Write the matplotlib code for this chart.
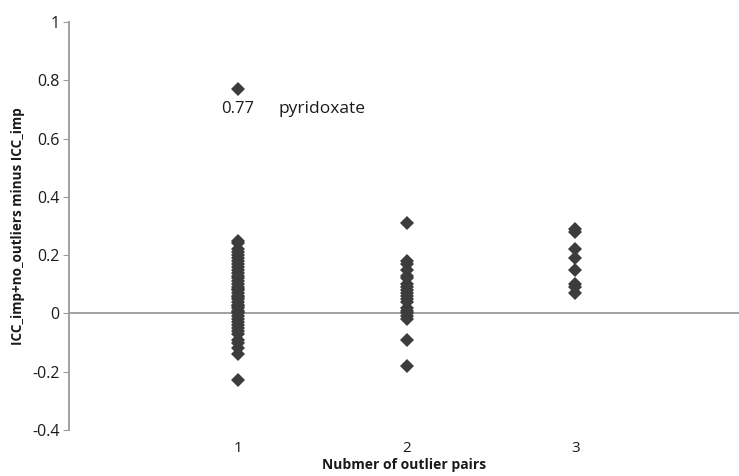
import matplotlib
matplotlib.use("Agg")
import matplotlib.pyplot as plt

# values (ICC difference per outlier-pair count)
pairs_1 = [0.77, 0.25, 0.24, 0.22, 0.21, 0.20, 0.19, 0.18, 0.17, 0.16, 0.15,
           0.14, 0.13, 0.12, 0.11, 0.10, 0.09, 0.085, 0.08, 0.07, 0.06, 0.055,
           0.05, 0.04, 0.03, 0.025, 0.02, 0.01, 0.005, 0.0, -0.01, -0.02,
           -0.03, -0.04, -0.05, -0.06, -0.07, -0.09, -0.10, -0.12, -0.14, -0.23]
pairs_2 = [0.31, 0.18, 0.17, 0.15, 0.13, 0.12, 0.10, 0.09, 0.08, 0.07, 0.06,
           0.05, 0.04, 0.02, 0.01, 0.0, -0.01, -0.02, -0.09, -0.18]
pairs_3 = [0.29, 0.28, 0.22, 0.19, 0.15, 0.10, 0.09, 0.07]

groups = [1, 2, 3]
series = [pairs_1, pairs_2, pairs_3]
y_ticks = [-0.4, -0.2, 0, 0.2, 0.4, 0.6, 0.8, 1]

plt.rcParams["font.family"] = ["Open Sans", "DejaVu Sans"]

fig = plt.figure(figsize=(7.39, 4.76), dpi=100)
ax = fig.add_axes([0.094, 0.0966, 0.906, 0.8572])

for g, vals in zip(groups, series):
    ax.plot([g] * len(vals), vals, linestyle="none", marker="D",
            markersize=7, color="#3c3c3c", markeredgewidth=0)

ax.axhline(0, color="#9a9a9a", linewidth=1.3, zorder=0)

ax.set_xlim(0, 3.97)
ax.set_ylim(-0.4, 1)
ax.set_yticks(y_ticks)
ax.set_yticklabels([f"{t:g}" for t in y_ticks])
ax.set_xticks(groups)
ax.set_xticklabels([str(g) for g in groups])

for side in ["top", "right", "bottom"]:
    ax.spines[side].set_visible(False)
ax.spines["left"].set_color("#9a9a9a")
ax.spines["left"].set_linewidth(1.3)

ax.tick_params(axis="y", direction="out", length=4, color="#9a9a9a",
               labelsize=11.5, labelcolor="#1a1a1a", pad=3)
ax.tick_params(axis="x", length=0, labelsize=11, labelcolor="#1a1a1a", pad=8)

ax.set_ylabel("ICC_imp+no_outliers minus ICC_imp", fontsize=9.75,
              fontweight="bold", color="#1a1a1a", labelpad=5)
ax.set_xlabel("Nubmer of outlier pairs", fontsize=10, fontweight="bold",
              color="#1a1a1a", labelpad=1)

ax.text(1, 0.70, "0.77", ha="center", va="center", fontsize=12, color="#1a1a1a")
ax.text(1.237, 0.70, "pyridoxate", ha="left", va="center", fontsize=12.5,
        color="#1a1a1a")

fig.savefig("out.png", dpi=100)
